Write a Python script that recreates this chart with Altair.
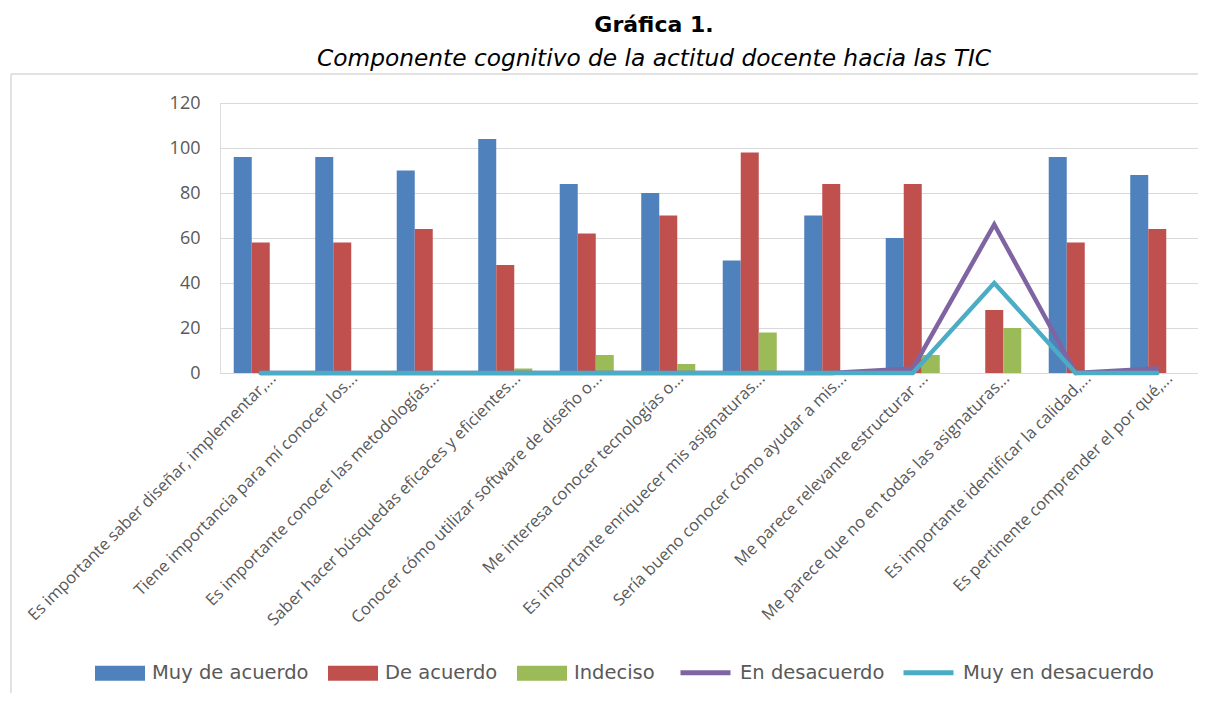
import altair as alt
import pandas as pd

categorias = [
    "Es importante saber diseñar, implementar,...",
    "Tiene importancia para mí conocer los...",
    "Es importante conocer las metodologías...",
    "Saber hacer búsquedas eficaces y eficientes...",
    "Conocer cómo utilizar software de diseño o...",
    "Me interesa conocer tecnologías o...",
    "Es importante enriquecer mis asignaturas...",
    "Sería bueno conocer cómo ayudar a mis...",
    "Me parece relevante estructurar ...",
    "Me parece que no en todas las asignaturas...",
    "Es importante identificar la calidad,...",
    "Es pertinente comprender el por qué,...",
]

muy_de_acuerdo = [96, 96, 90, 104, 84, 80, 50, 70, 60, 0, 96, 88]
de_acuerdo = [58, 58, 64, 48, 62, 70, 98, 84, 84, 28, 58, 64]
indeciso = [0, 0, 0, 2, 8, 4, 18, 0, 8, 20, 0, 0]
en_desacuerdo = [0, 0, 0, 0, 0, 0, 0, 0, 2, 66, 0, 2]
muy_en_desacuerdo = [0, 0, 0, 0, 0, 0, 0, 0, 0, 40, 0, 0]

series_barras = ["Muy de acuerdo", "De acuerdo", "Indeciso"]
colores_barras = ["#4f81bd", "#c0504d", "#9bbb59"]
series_lineas = ["En desacuerdo", "Muy en desacuerdo"]
colores_lineas = ["#8064a2", "#4bacc6"]
ticks_y = [0, 20, 40, 60, 80, 100, 120]

filas_b = []
for s, vals in zip(series_barras, [muy_de_acuerdo, de_acuerdo, indeciso]):
    for c, v in zip(categorias, vals):
        filas_b.append({"cat": c, "serie": s, "valor": v})
df_barras = pd.DataFrame(filas_b)

filas_l = []
for s, vals in zip(series_lineas, [en_desacuerdo, muy_en_desacuerdo]):
    for c, v in zip(categorias, vals):
        filas_l.append({"cat": c, "serie": s, "valor": v})
df_lineas = pd.DataFrame(filas_l)

GRAY = "#595959"
GRID = "#d9d9d9"

x_enc = alt.X(
    "cat:N",
    sort=categorias,
    scale=alt.Scale(paddingInner=0.337, paddingOuter=0.1685),
    axis=alt.Axis(
        title=None,
        labelAngle=-45,
        labelAlign="right",
        labelBaseline="alphabetic",
        labelFont="Open Sans",
        labelFontSize=16.5,
        labelColor=GRAY,
        labelLimit=600,
        labelOverlap=False,
        labelPadding=6,
        labelOffset=16,
        ticks=False,
        tickSize=0,
        domainColor=GRID,
        domainWidth=1,
        grid=False,
    ),
)

y_enc = alt.Y(
    "valor:Q",
    scale=alt.Scale(domain=[0, 120], nice=False),
    axis=alt.Axis(
        title=None,
        values=ticks_y,
        labelFont="Open Sans",
        labelFontSize=18,
        labelColor=GRAY,
        labelPadding=20,
        ticks=False,
        tickSize=0,
        domain=False,
        grid=True,
        gridColor=GRID,
        gridWidth=1,
    ),
)

marco_dato = alt.Data(values=[{"k": 1}])
marco_izq = alt.Chart(marco_dato).mark_rule(stroke=GRID, strokeWidth=1.5).encode(
    x=alt.value(-209), y=alt.value(-29), y2=alt.value(600)
)
marco_sup = alt.Chart(marco_dato).mark_rule(stroke=GRID, strokeWidth=1.5).encode(
    x=alt.value(-209), x2=alt.value(978), y=alt.value(-29)
)

barras = alt.Chart(df_barras).mark_bar().encode(
    x=x_enc,
    y=y_enc,
    xOffset=alt.XOffset("serie:N", sort=series_barras,
                        scale=alt.Scale(paddingInner=0, paddingOuter=0)),
    color=alt.Color(
        "serie:N",
        scale=alt.Scale(domain=series_barras, range=colores_barras),
        legend=alt.Legend(
            title=None,
            orient="none",
            legendX=-125,
            legendY=545,
            direction="horizontal",
            symbolType="M-1,-0.3L1,-0.3L1,0.3L-1,0.3Z",
            symbolSize=2500,
            symbolStrokeWidth=0,
            labelFont="DejaVu Sans",
            labelFontSize=19.5,
            labelColor=GRAY,
            labelLimit=400,
            labelOffset=7,
            columnPadding=19,
        ),
    ),
)

leg_lineas = alt.Legend(
    title=None,
    orient="none",
    legendX=458,
    legendY=542,
    direction="horizontal",
    symbolType="stroke",
    symbolSize=2500,
    symbolStrokeWidth=5,
    labelFont="DejaVu Sans",
    labelFontSize=19.5,
    labelColor=GRAY,
    labelLimit=400,
    labelOffset=7,
    columnPadding=8,
)

lineas = [
    alt.Chart(df_lineas).transform_filter(alt.datum.serie == s).mark_line(
        strokeWidth=4.5, strokeCap="round", strokeJoin="miter"
    ).encode(
        x=x_enc,
        y=y_enc,
        stroke=alt.Stroke(
            "serie:N",
            scale=alt.Scale(domain=series_lineas, range=colores_lineas),
            legend=leg_lineas,
        ),
    )
    for s in series_lineas
]

chart = alt.layer(marco_izq, marco_sup, barras, *lineas).properties(
    width=978,
    height=270,
    autosize=alt.AutoSizeParams(type="none"),
    padding={"left": 212, "top": 95, "right": 0, "bottom": 320},
    title=alt.TitleParams(
        text="Gráfica 1.",
        subtitle="Componente cognitivo de la actitud docente hacia las TIC",
        font="DejaVu Sans",
        fontSize=22,
        fontWeight="bold",
        color="black",
        subtitleFont="DejaVu Sans",
        subtitleFontSize=23.3,
        subtitleFontStyle="italic",
        subtitleColor="black",
        subtitlePadding=11,
        anchor="middle",
        frame="group",
        dx=-55,
        offset=2,
    ),
).configure_view(stroke=None).configure(background="white")

chart.save("out.html", embed_options={"renderer": "svg", "actions": False})
